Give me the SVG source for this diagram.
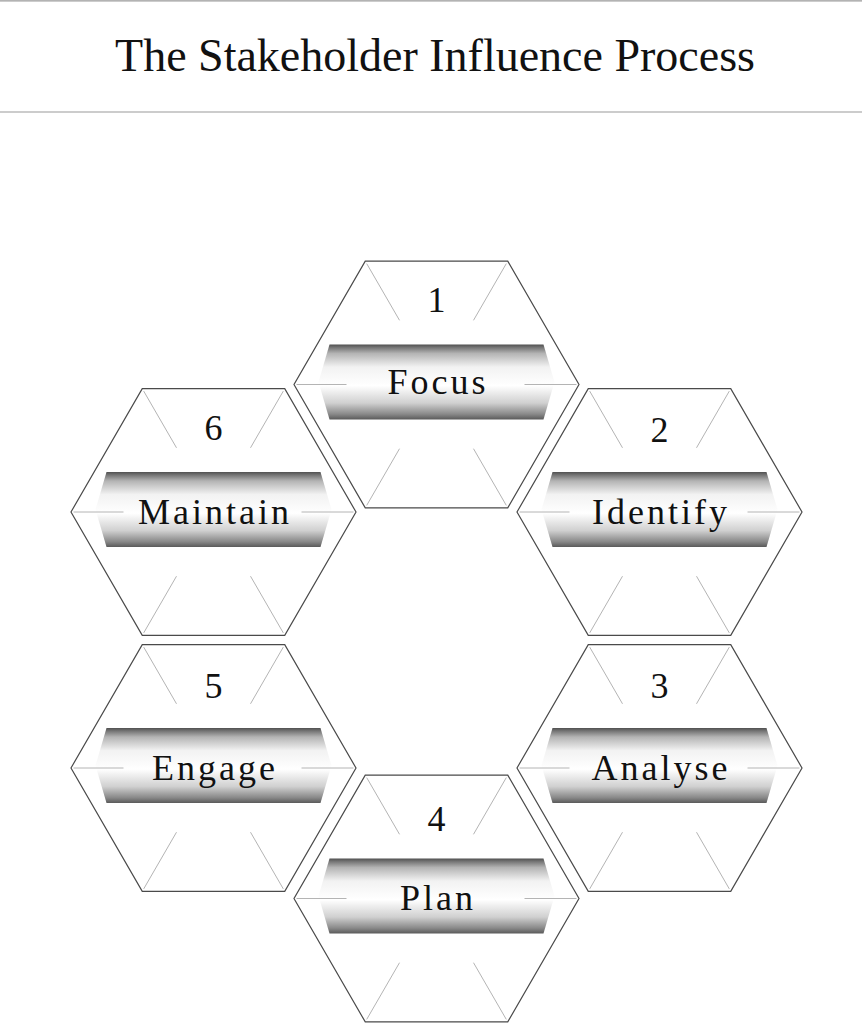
<svg xmlns="http://www.w3.org/2000/svg" xmlns:xlink="http://www.w3.org/1999/xlink" width="862" height="1024" viewBox="0 0 862 1024">
  <style>
    .hex { fill: #ffffff; stroke: #4a4a4a; stroke-width: 1.2; }
    .spoke { stroke: #b4b4b4; stroke-width: 1; fill: none; }
    .band { fill: url(#bandGrad); }
    .num { font-family: "Liberation Serif", "DejaVu Serif", serif; font-size: 36px; fill: #111; text-anchor: middle; }
    .label { font-family: "Liberation Serif", "DejaVu Serif", serif; font-size: 36px; letter-spacing: 3px; fill: #111; text-anchor: middle; }
    .title { font-family: "Liberation Serif", "DejaVu Serif", serif; font-size: 46px; fill: #111; text-anchor: middle; }
    .rule { stroke: #9a9a9a; stroke-width: 1.2; }
  </style>
  <defs>
    <linearGradient id="bandGrad" x1="0" y1="0" x2="0" y2="1">
      <stop offset="0" stop-color="#505050"/>
      <stop offset="0.04" stop-color="#757575"/>
      <stop offset="0.12" stop-color="#b4b4b4"/>
      <stop offset="0.3" stop-color="#f2f2f2"/>
      <stop offset="0.55" stop-color="#ffffff"/>
      <stop offset="0.78" stop-color="#d0d0d0"/>
      <stop offset="0.93" stop-color="#888888"/>
      <stop offset="1" stop-color="#5a5a5a"/>
    </linearGradient>
    <g id="cell">
      <polygon class="hex" points="-71.25,-123.4 71.25,-123.4 142.5,0 71.25,123.4 -71.25,123.4 -142.5,0"/>
      <polygon class="band" points="-107,-40 107,-40 118,-2.5 107,35 -107,35 -118,-2.5"/>
      <line class="spoke" x1="-69.8" y1="-120.9" x2="-37" y2="-64.2"/>
      <line class="spoke" x1="69.8" y1="-120.9" x2="37" y2="-64.2"/>
      <line class="spoke" x1="-69.8" y1="120.9" x2="-37" y2="64.2"/>
      <line class="spoke" x1="69.8" y1="120.9" x2="37" y2="64.2"/>
      <line class="spoke" x1="-140" y1="0" x2="-90" y2="0"/>
      <line class="spoke" x1="140" y1="0" x2="88" y2="0"/>
    </g>
  </defs>

  <rect x="0" y="0" width="862" height="1024" fill="#ffffff"/>

  <g id="header">
    <line class="rule" x1="0" y1="0.8" x2="862" y2="0.8"/>
    <text class="title" x="435" y="71">The Stakeholder Influence Process</text>
    <line class="rule" x1="0" y1="112" x2="862" y2="112"/>
  </g>

  <g id="connectors"></g>

  <g id="node-1" transform="translate(436.5,384.5)">
    <use xlink:href="#cell"/>
    <text class="num" x="0" y="-73">1</text>
    <text class="label" x="1.5" y="9">Focus</text>
  </g>

  <g id="node-2" transform="translate(659.5,512)">
    <use xlink:href="#cell"/>
    <text class="num" x="0" y="-70">2</text>
    <text class="label" x="1.5" y="12">Identify</text>
  </g>

  <g id="node-3" transform="translate(659.5,768)">
    <use xlink:href="#cell"/>
    <text class="num" x="0" y="-70">3</text>
    <text class="label" x="1.5" y="12">Analyse</text>
  </g>

  <g id="node-4" transform="translate(436.5,898.5)">
    <use xlink:href="#cell"/>
    <text class="num" x="0" y="-68">4</text>
    <text class="label" x="1.5" y="11">Plan</text>
  </g>

  <g id="node-5" transform="translate(213.5,768)">
    <use xlink:href="#cell"/>
    <text class="num" x="0" y="-70">5</text>
    <text class="label" x="1.5" y="12">Engage</text>
  </g>

  <g id="node-6" transform="translate(213.5,512)">
    <use xlink:href="#cell"/>
    <text class="num" x="0" y="-72">6</text>
    <text class="label" x="1.5" y="12">Maintain</text>
  </g>
</svg>
